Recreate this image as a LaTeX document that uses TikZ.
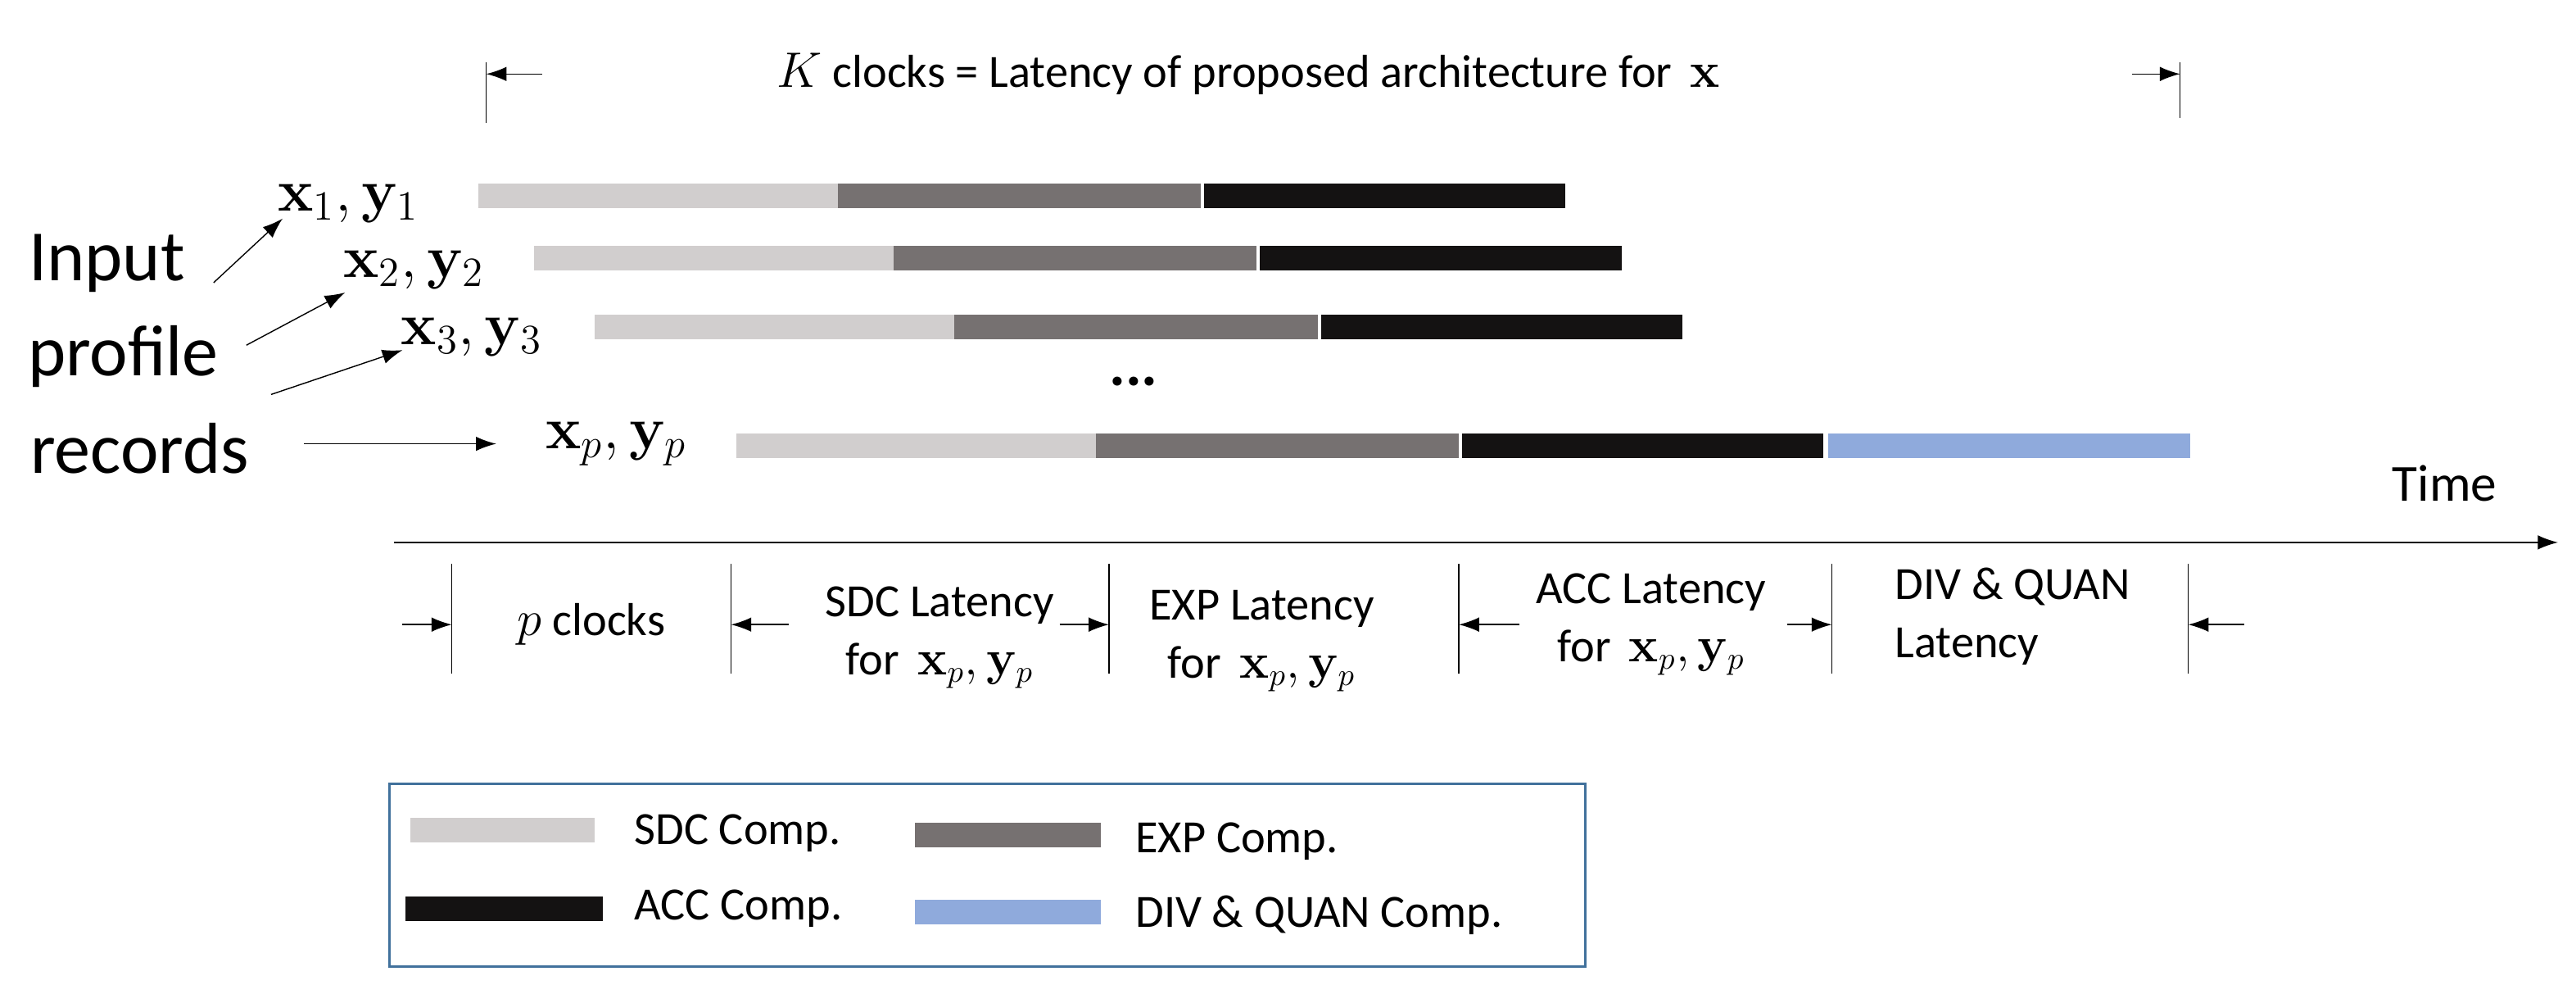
\documentclass[tikz,border=0pt]{standalone}
\usepackage{amsmath}
\usepackage[no-math]{fontspec}
\setmainfont{Carlito}
\usetikzlibrary{arrows.meta}
\definecolor{sdc}{RGB}{209,206,206}
\definecolor{expc}{RGB}{118,113,113}
\definecolor{accc}{RGB}{20,18,18}
\definecolor{divc}{RGB}{143,170,220}
\definecolor{boxc}{RGB}{65,113,156}
\tikzset{
	bar/.style={line width=0.3cm},
	txt/.style={font=\fontsize{16}{18}\selectfont},
	big/.style={font=\fontsize{25}{27}\selectfont},
	vec/.style={font=\fontsize{21}{23}\selectfont},
	tick/.style={thin},
	ar/.style={-{Latex[length=7pt,width=5pt]},thin}
}
\begin{document}
\begin{tikzpicture}[x=0.02cm,y=-0.02cm]
	\useasboundingbox (0,0) rectangle (1568,599);

	% top latency span
	\coordinate (tl1) at (296,38); \coordinate (tl2) at (296,75);
	\coordinate (tr1) at (1327,38); \coordinate (tr2) at (1327,72);
	\draw[tick] (tl1) -- (tl2);
	\draw[tick] (tr1) -- (tr2);
	\coordinate (tla) at (330,45); \coordinate (tlb) at (296,45);
	\coordinate (tra) at (1298,45); \coordinate (trb) at (1327,45);
	\draw[ar] (tla) -- (tlb);
	\draw[ar] (tra) -- (trb);
	\node[txt] (ktext) at (760,45) {$K$ clocks = Latency of proposed architecture for \,$\mathbf{x}$};

	% bars
	\foreach \s/\y in {291/119,325/157,362/199,448/271}{
		\draw[bar,sdc] (\s,\y) -- ++(219,0);
		\draw[bar,expc] (\s+219,\y) -- ++(221,0);
		\draw[bar,accc] (\s+442,\y) -- ++(220,0);
	}
	\draw[bar,divc] (1113,271) -- (1333,271);

	% input records
	\node[vec] (v1) at (212,124) {$\mathbf{x}_1,\mathbf{y}_1$};
	\node[vec] (v2) at (252,164) {$\mathbf{x}_2,\mathbf{y}_2$};
	\node[vec] (v3) at (287,205) {$\mathbf{x}_3,\mathbf{y}_3$};
	\node[vec] (vp) at (375,270) {$\mathbf{x}_p,\mathbf{y}_p$};
	\node[vec] (dots) at (690,232) {\textbf{...}};
	\node[big] (inp) at (65,160) {Input};
	\node[big] (prof) at (75,217) {profile};
	\node[big] (rec) at (85,273) {records};
	\coordinate (s1) at (130,172); \coordinate (e1) at (172,133);
	\coordinate (s2) at (150,210); \coordinate (e2) at (210,178);
	\coordinate (s3) at (165,240); \coordinate (e3) at (245,213);
	\coordinate (s4) at (185,270); \coordinate (e4) at (302,270);
	\draw[ar] (s1) -- (e1);
	\draw[ar] (s2) -- (e2);
	\draw[ar] (s3) -- (e3);
	\draw[ar] (s4) -- (e4);

	% time axis
	\coordinate (t0) at (240,330); \coordinate (t1) at (1557,330);
	\draw[ar] (t0) -- (t1);
	\node[txt,font=\fontsize{18}{20}\selectfont] (time) at (1488,294) {Time};

	% latency ticks
	\foreach \x/\n in {275/a,445/b,675/c,888/d,1115/e,1332/f}{
		\coordinate (b\n1) at (\x,343); \coordinate (b\n2) at (\x,410);
		\draw[tick] (b\n1) -- (b\n2);
	}
	\foreach \a/\b in {245/275,480/445,645/675,925/888,1088/1115,1366/1332}{
		\coordinate (s) at (\a,380); \coordinate (e) at (\b,380);
		\draw[ar] (s) -- (e);
	}
	\node[txt] (pcl) at (360,380) {$p$ clocks};
	\node[txt,align=center] (sdcl) at (572,388) {SDC Latency\\[2pt]for \,$\mathbf{x}_p,\mathbf{y}_p$};
	\node[txt,align=center] (expl) at (768,390) {EXP Latency\\[2pt]for \,$\mathbf{x}_p,\mathbf{y}_p$};
	\node[txt,align=center] (accl) at (1005,380) {ACC Latency\\[2pt]for \,$\mathbf{x}_p,\mathbf{y}_p$};
	\node[txt,align=left] (divl) at (1225,375) {DIV \& QUAN\\[2pt]Latency};

	% legend
	\draw[boxc,thick] (237,477) rectangle (965,588);
	\draw[bar,sdc] (250,505) -- (362,505);
	\draw[bar,expc] (557,508) -- (670,508);
	\draw[bar,accc] (247,553) -- (367,553);
	\draw[bar,divc] (557,555) -- (670,555);
	\node[txt,anchor=west] (l1) at (380,507) {SDC Comp.};
	\node[txt,anchor=west] (l2) at (685,512) {EXP Comp.};
	\node[txt,anchor=west] (l3) at (380,553) {ACC Comp.};
	\node[txt,anchor=west] (l4) at (685,557) {DIV \& QUAN Comp.};
\end{tikzpicture}
\end{document}
